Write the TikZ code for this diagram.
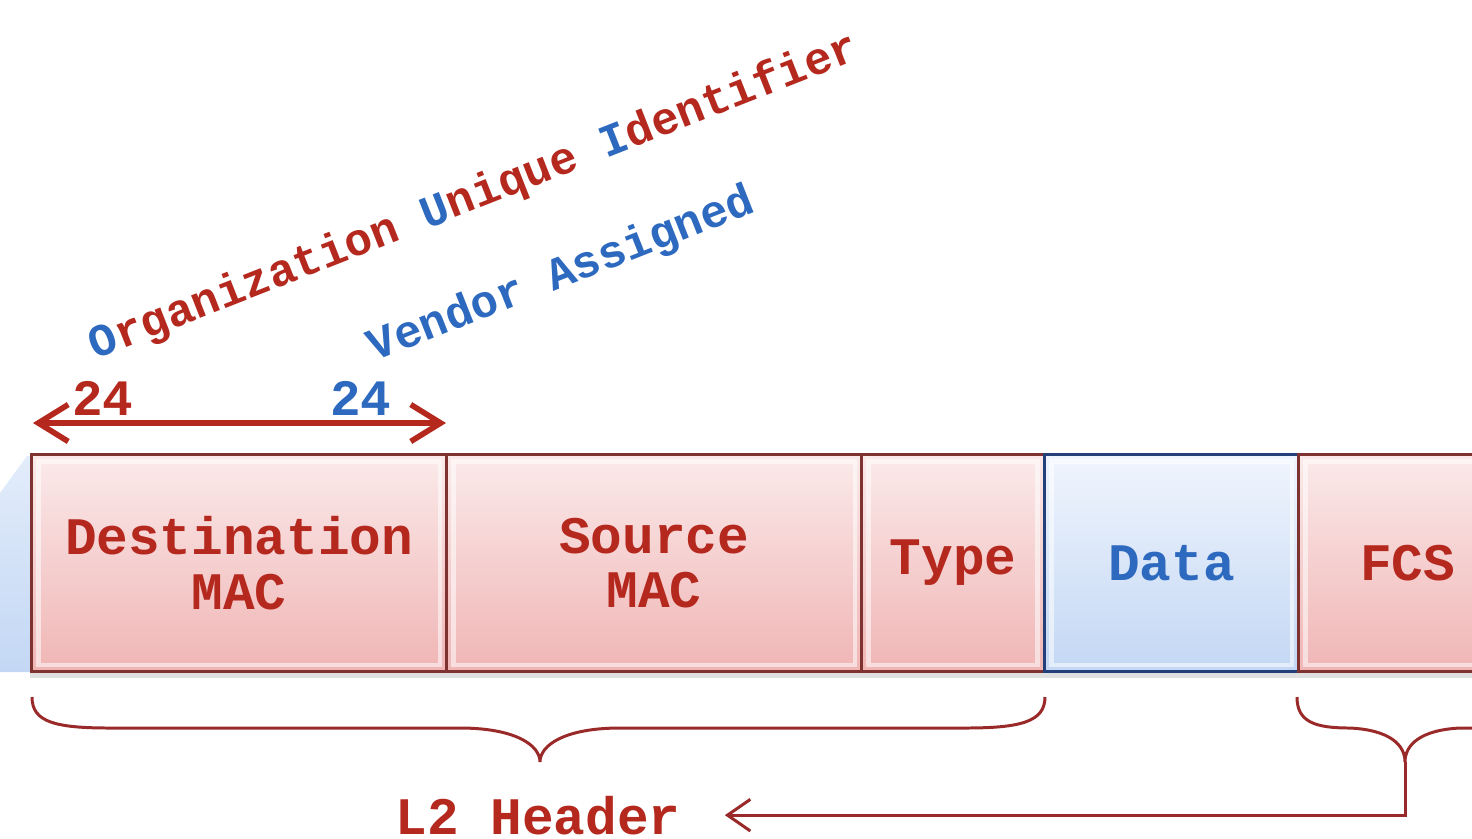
\documentclass[tikz,border=0pt]{standalone}
\usepackage{fontspec}
\setmonofont{Liberation Mono}
\usetikzlibrary{arrows.meta,calc}

\definecolor{txtred}{HTML}{B4281E}
\definecolor{txtblue}{HTML}{2D69BE}
\definecolor{edgered}{HTML}{7E3330}
\definecolor{edgeblue}{HTML}{24407A}
\definecolor{pinktop}{HTML}{FBEAEA}
\definecolor{pinkbot}{HTML}{F0B5B5}
\definecolor{bluetop}{HTML}{F0F5FD}
\definecolor{bluebot}{HTML}{C3D7F4}
\definecolor{bracered}{HTML}{9A2A2A}

\tikzset{
  fld/.style={draw=edgered, line width=0.85pt, top color=pinktop, bottom color=pinkbot,
    minimum height=2.17cm, anchor=north west, align=center, inner sep=0pt, text=txtred,
    font=\ttfamily\bfseries\fontsize{15}{15.6}\selectfont,
    path picture={\draw[white, opacity=0.55, line width=1.2pt]
      ([shift={(0.07cm,-0.07cm)}]path picture bounding box.north west) rectangle
      ([shift={(-0.07cm,0.07cm)}]path picture bounding box.south east);}},
  datafld/.style={fld, draw=edgeblue, top color=bluetop, bottom color=bluebot, text=txtblue},
  slant/.style={rotate=21.5, anchor=base west, inner sep=0pt,
    font=\ttfamily\bfseries\fontsize{13}{14}\selectfont},
  bits/.style={anchor=base, inner sep=0pt, font=\ttfamily\bfseries\fontsize{14.5}{15}\selectfont},
  brace/.style={draw=bracered, line width=0.85pt},
}

\newcommand{\bl}[1]{\textcolor{txtblue}{#1}}

\begin{document}
\begin{tikzpicture}[x=0.01cm, y=-0.01cm]
\useasboundingbox (0,0) rectangle (1472,838);

\shade[top color=bluetop!70!bluebot, bottom color=bluebot] (0,493) -- (27,456) -- (30,456) -- (30,672) -- (0,672) -- cycle; % previous frame
\fill[black!12] (30,670) rectangle (1472,678); % shadow

\node[fld, minimum width=4.15cm] (dstmac) at (30,453) {Destination\\MAC};
\node[fld, minimum width=4.15cm] (srcmac) at (445,453) {Source\\MAC};
\node[fld, minimum width=1.83cm] (typefld) at (860,453) {Type};
\node[datafld, minimum width=2.54cm] (datafld) at (1043,453) {Data};
\node[fld, minimum width=2.18cm] (fcsfld) at (1297,453) {FCS};

\node[slant, text=txtred] (oui) at (95,360) {\bl{O}rganization \bl{U}nique \bl{I}dentifier};
\node[slant, text=txtblue] (vendor) at (374,362) {Vendor Assigned};

\node[bits, text=txtred] (ouibits) at (103,415) {24};
\node[bits, text=txtblue] (nicbits) at (361,415) {24};

\coordinate (arrL) at (33,423);
\coordinate (arrR) at (446,423);
\draw[draw=txtred, line width=1.6pt, {Straight Barb[length=8.5pt, width=10.5pt]}-{Straight Barb[length=8.5pt, width=10.5pt]}] (arrL) -- (arrR);

% braces
\draw[brace] (32,697) .. controls (32,722) and (55,728) .. (110,728) -- (460,728)
  .. controls (515,728) and (540,745) .. (540,762)
  .. controls (540,745) and (565,728) .. (620,728) -- (965,728)
  .. controls (1020,728) and (1045,722) .. (1045,697);
\draw[brace] (1297,697) .. controls (1297,722) and (1315,728) .. (1350,728)
  .. controls (1390,730) and (1405,745) .. (1405,762)
  .. controls (1405,745) and (1420,730) .. (1460,728) -- (1480,728);

\coordinate (fcstip) at (1405,762);
\node[anchor=base, text=txtred, font=\ttfamily\bfseries\fontsize{15}{15.6}\selectfont] (header) at (538,834) {L2 Header};
\draw[brace, -{Straight Barb[length=6.5pt, width=9pt]}] (fcstip) |- ($(header.east)+(32,0)$);

\end{tikzpicture}
\end{document}
